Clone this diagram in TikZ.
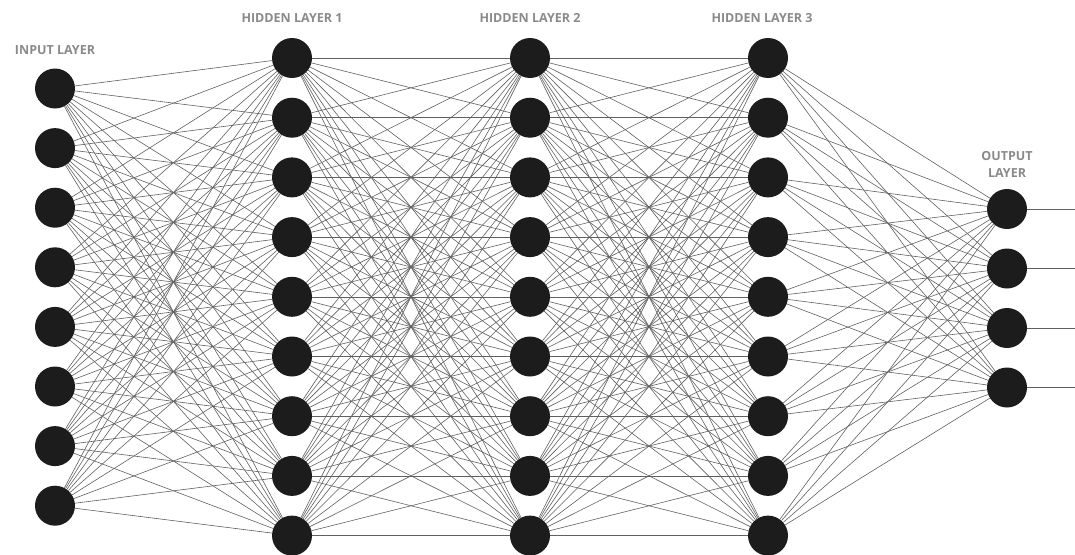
\documentclass[tikz,border=0pt]{standalone}
\usepackage{fontspec}
\setsansfont{Open Sans}
\usetikzlibrary{backgrounds}
\definecolor{nodecol}{HTML}{1C1C1C}
\definecolor{edgecol}{HTML}{606060}
\definecolor{labcol}{HTML}{8A8A8A}
\tikzset{
  neuron/.style={circle,fill=nodecol,draw=none,minimum size=40pt,inner sep=0pt},
  conn/.style={draw=edgecol,line width=0.6pt},
  lab/.style={text=labcol,font=\sffamily\bfseries\fontsize{12.5}{17}\selectfont,align=center,inner sep=0pt},
}
\begin{document}
\begin{tikzpicture}[x=1pt,y=-1pt]
\useasboundingbox (0,0) rectangle (1075,554);
% input layer
\foreach \i in {1,...,8} {
  \node[neuron] (I\i) at (55,{88.5+(\i-1)*59.6}) {};
}
% hidden layers
\foreach \l/\x in {1/292,2/530,3/768} {
  \foreach \i in {1,...,9} {
    \node[neuron] (H\l-\i) at (\x,{58+(\i-1)*59.7}) {};
  }
}
% output layer
\foreach \i in {1,...,4} {
  \node[neuron] (O\i) at (1007,{209+(\i-1)*59.5}) {};
  \coordinate (E\i) at (1075,{209+(\i-1)*59.5});
}
% labels
\node[lab] (Lin) at (55,50) {INPUT LAYER};
\node[lab] (Lh1) at (292,18) {HIDDEN LAYER 1};
\node[lab] (Lh2) at (530,18) {HIDDEN LAYER 2};
\node[lab] (Lh3) at (762,18) {HIDDEN LAYER 3};
\node[lab] (Lout) at (1007,164) {OUTPUT\\LAYER};
% connections
\begin{scope}[on background layer]
  \foreach \i in {1,...,8} \foreach \j in {1,...,9} \draw[conn] (I\i) -- (H1-\j);
  \foreach \i in {1,...,9} \foreach \j in {1,...,9} \draw[conn] (H1-\i) -- (H2-\j);
  \foreach \i in {1,...,9} \foreach \j in {1,...,9} \draw[conn] (H2-\i) -- (H3-\j);
  \foreach \i in {1,...,9} \foreach \j in {1,...,4} \draw[conn] (H3-\i) -- (O\j);
  \foreach \i in {1,...,4} \draw[conn] (O\i) -- (E\i);
\end{scope}
\end{tikzpicture}
\end{document}
